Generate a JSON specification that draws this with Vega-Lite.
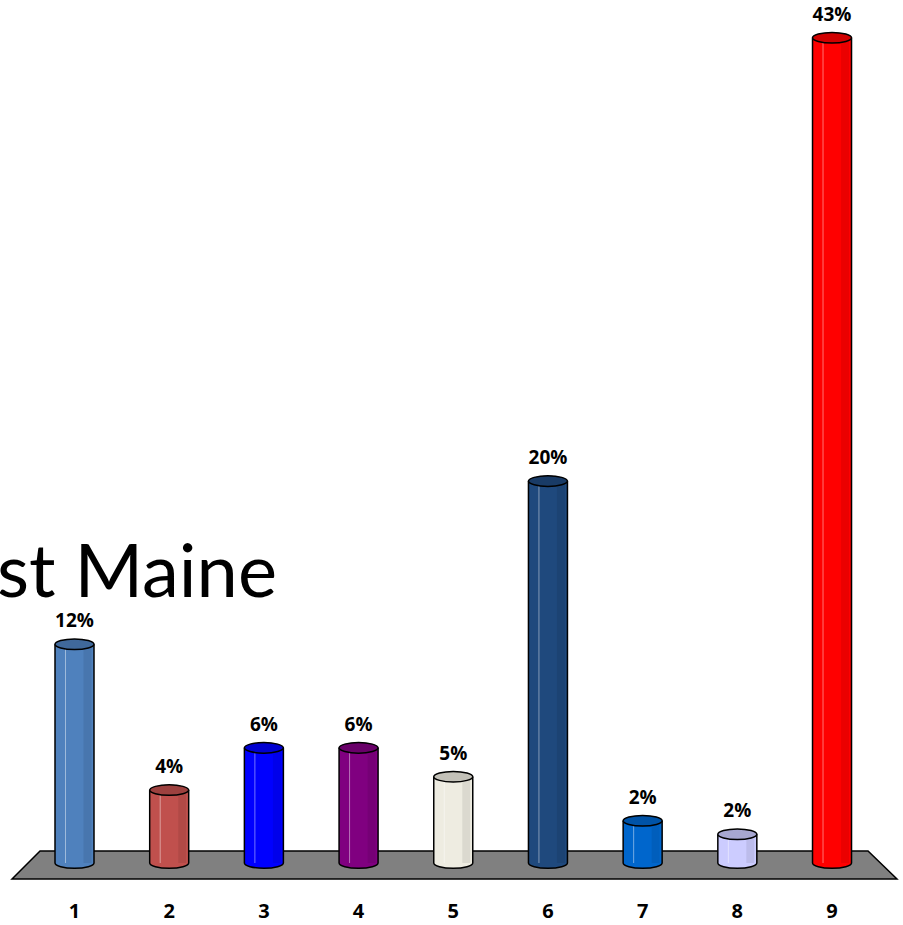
{
  "$schema": "https://vega.github.io/schema/vega-lite/v6.json",
  "width": 903,
  "height": 925,
  "autosize": {"type": "none"},
  "padding": 0,
  "background": "white",
  "config": {"view": {"stroke": null}},
  "datasets": {
    "bars": [
      {"cat": 1, "value": 11.4, "label": "12%"},
      {"cat": 2, "value": 3.8, "label": "4%"},
      {"cat": 3, "value": 6.0, "label": "6%"},
      {"cat": 4, "value": 6.0, "label": "6%"},
      {"cat": 5, "value": 4.5, "label": "5%"},
      {"cat": 6, "value": 19.9, "label": "20%"},
      {"cat": 7, "value": 2.2, "label": "2%"},
      {"cat": 8, "value": 1.5, "label": "2%"},
      {"cat": 9, "value": 43.0, "label": "43%"}
    ],
    "floor": [
      {"fx": 0.340, "ftop": -0.834, "fbot": -0.834},
      {"fx": 0.636, "ftop": 0.625, "fbot": -0.834},
      {"fx": 9.380, "ftop": 0.625, "fbot": -0.834},
      {"fx": 9.686, "ftop": -0.834, "fbot": -0.834}
    ],
    "heading": [{"t": "st Maine"}]
  },
  "layer": [
    {
      "data": {"name": "floor"},
      "mark": {"type": "area", "fill": "#808080", "stroke": "black", "strokeWidth": 1.5, "interpolate": "linear"},
      "encoding": {
        "x": {"field": "fx", "type": "quantitative", "scale": {"domain": [0.2132, 9.7496], "nice": false, "zero": false, "padding": 0}, "axis": null},
        "y": {"field": "ftop", "type": "quantitative", "scale": {"domain": [-3.23, 44.97], "nice": false, "zero": false, "padding": 0}, "axis": null},
        "y2": {"field": "fbot"}
      }
    },
    {
      "data": {"name": "bars"},
      "mark": {"type": "point", "shape": "M-1,0A1,0.27,0,0,0,1,0", "size": 1521, "filled": true, "opacity": 1, "stroke": "black", "strokeWidth": 1.5},
      "encoding": {
        "x": {"field": "cat", "type": "quantitative", "scale": {"domain": [0.2132, 9.7496], "nice": false, "zero": false, "padding": 0}, "axis": null},
        "y": {"datum": 0, "type": "quantitative", "scale": {"domain": [-3.23, 44.97], "nice": false, "zero": false, "padding": 0}, "axis": null},
        "fill": {"field": "cat", "type": "nominal", "scale": {"domain": [1,2,3,4,5,6,7,8,9], "range": ["#4F81BD", "#C0504D", "#0000FF", "#800080", "#EEECE1", "#1F497D", "#0066CC", "#CCCCFF", "#FF0000"]}, "legend": null}
      }
    },
    {
      "data": {"name": "bars"},
      "mark": {"type": "bar", "width": 39, "opacity": 1},
      "encoding": {
        "x": {"field": "cat", "type": "quantitative"},
        "y": {"field": "value", "type": "quantitative"},
        "fill": {"field": "cat", "type": "nominal", "legend": null}
      }
    },
    {
      "data": {"name": "bars"},
      "mark": {"type": "rule", "color": "white", "opacity": 0.45, "strokeWidth": 1, "xOffset": -9},
      "encoding": {
        "x": {"field": "cat", "type": "quantitative"},
        "y": {"field": "value", "type": "quantitative"},
        "y2": {"datum": 0}
      }
    },
    {
      "data": {"name": "bars"},
      "mark": {"type": "rule", "color": "black", "opacity": 0.08, "strokeWidth": 8, "xOffset": 13},
      "encoding": {
        "x": {"field": "cat", "type": "quantitative"},
        "y": {"field": "value", "type": "quantitative"},
        "y2": {"datum": 0}
      }
    },
    {
      "data": {"name": "bars"},
      "mark": {"type": "rule", "color": "black", "strokeWidth": 1.5, "xOffset": -19.5},
      "encoding": {
        "x": {"field": "cat", "type": "quantitative"},
        "y": {"field": "value", "type": "quantitative"},
        "y2": {"datum": 0}
      }
    },
    {
      "data": {"name": "bars"},
      "mark": {"type": "rule", "color": "black", "strokeWidth": 1.5, "xOffset": 19.5},
      "encoding": {
        "x": {"field": "cat", "type": "quantitative"},
        "y": {"field": "value", "type": "quantitative"},
        "y2": {"datum": 0}
      }
    },
    {
      "data": {"name": "bars"},
      "mark": {"type": "point", "shape": "M-1,0A1,0.27,0,1,0,1,0A1,0.27,0,1,0,-1,0Z", "size": 1521, "filled": true, "opacity": 1, "stroke": "black", "strokeWidth": 1.5},
      "encoding": {
        "x": {"field": "cat", "type": "quantitative"},
        "y": {"field": "value", "type": "quantitative"},
        "fill": {"field": "cat", "type": "nominal", "legend": null}
      }
    },
    {
      "data": {"name": "bars"},
      "mark": {"type": "point", "shape": "M-1,0A1,0.27,0,1,0,1,0A1,0.27,0,1,0,-1,0Z", "size": 1521, "filled": true, "fill": "black", "fillOpacity": 0.18, "strokeWidth": 0},
      "encoding": {
        "x": {"field": "cat", "type": "quantitative"},
        "y": {"field": "value", "type": "quantitative"}
      }
    },
    {
      "data": {"name": "bars"},
      "mark": {"type": "text", "font": "Open Sans", "fontWeight": "bold", "fontSize": 19, "color": "black", "baseline": "alphabetic", "align": "center", "dy": -17},
      "encoding": {
        "x": {"field": "cat", "type": "quantitative"},
        "y": {"field": "value", "type": "quantitative"},
        "text": {"field": "label", "type": "nominal"}
      }
    },
    {
      "data": {"name": "bars"},
      "mark": {"type": "text", "font": "Open Sans", "fontWeight": "bold", "fontSize": 20, "color": "black", "baseline": "alphabetic", "align": "center"},
      "encoding": {
        "x": {"field": "cat", "type": "quantitative"},
        "y": {"datum": -2.85, "type": "quantitative"},
        "text": {"field": "cat", "type": "quantitative"}
      }
    },
    {
      "data": {"name": "heading"},
      "mark": {"type": "text", "font": "Lato", "fontSize": 74, "color": "black", "baseline": "alphabetic", "align": "right"},
      "encoding": {
        "x": {"datum": 3.138, "type": "quantitative"},
        "y": {"datum": 13.86, "type": "quantitative"},
        "text": {"field": "t", "type": "nominal"}
      }
    }
  ]
}
